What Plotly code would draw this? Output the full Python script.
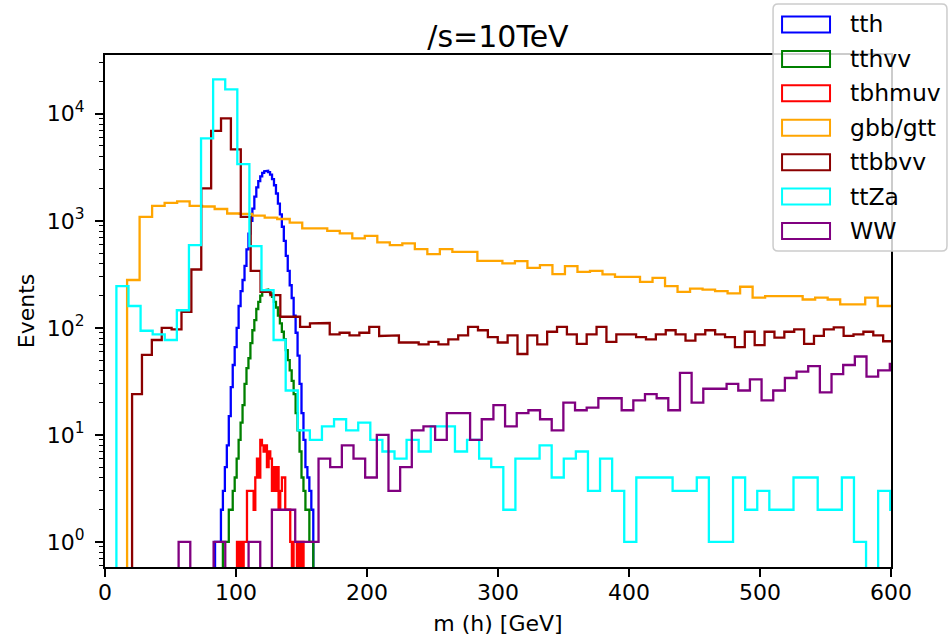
import plotly.graph_objects as go

# ---------------- data ----------------
series_names = ["tth", "tthvv", "tbhmuv", "gbb/gtt", "ttbbvv", "ttZa", "WW"]

# histogram binning per series: first bin edge [GeV] and bin width [GeV]
bin_start = {"tth": 84.0, "tthvv": 84.0, "tbhmuv": 100.76, "gbb/gtt": 16.86,
             "ttbbvv": 20.67, "ttZa": 8.70, "WW": 56.2}
bin_width = {"tth": 1.5, "tthvv": 1.5, "tbhmuv": 1.27, "gbb/gtt": 9.55,
             "ttbbvv": 7.544, "ttZa": 9.23, "WW": 8.90}

tth = [1, 1, 1, 2, 3, 5, 8, 15, 28, 45,
       66, 100, 160, 220, 280, 380, 540, 760, 1000, 1300,
       1680, 2050, 2350, 2600, 2800, 2900, 2930, 2850, 2700, 2450,
       2150, 1800, 1450, 1150, 880, 650, 470, 340, 250, 190,
       130, 90, 55, 30, 16, 9, 5, 4, 3, 2]

tthvv = [0, 0, 0, 0, 1, 1, 1, 2, 2, 3,
         4, 6, 9, 13, 19, 30, 42, 52, 72, 95,
         118, 150, 175, 200, 218, 225, 228, 222, 210, 195,
         175, 155, 130, 110, 92, 78, 62, 50, 40, 32,
         24, 16, 11, 7, 4, 3, 2, 2, 1, 1]

tbhmuv = [1, 0, 1, 0, 1, 1, 3, 3, 3, 3,
          2, 4, 6, 4, 9, 8, 7, 8, 5, 7,
          6, 3, 5, 3, 5, 2, 3, 4, 4, 2,
          2, 2, 1, 0, 1, 1, 0, 1, 0, 1]

gbb_gtt = [280, 1090, 1380, 1470, 1520, 1380, 1360, 1290, 1170, 1160,
           1120, 1070, 1040, 960, 850, 850, 807, 762, 685, 724,
           628, 593, 615, 543, 488, 543, 513, 513, 423, 423,
           400, 420, 364, 385, 318, 377, 334, 341, 316, 300,
           300, 269, 293, 245, 217, 233, 228, 220, 210, 242,
           192, 198, 195, 198, 184, 192, 184, 166, 166, 192,
           160, 160]

ttbbvv = [24, 56, 77, 100, 97, 141, 351, 2010, 6930, 9060,
          4650, 1090, 341, 217, 202, 127, 127, 102, 110, 111,
          87, 90, 85, 90, 102, 84, 85, 73, 73, 70,
          74, 70, 78, 85, 102, 95, 82, 73, 85, 57,
          85, 70, 92, 102, 87, 71, 87, 102, 74, 87,
          87, 82, 78, 87, 95, 87, 76, 87, 95, 87,
          82, 66, 92, 69, 92, 81, 92, 97, 71, 84,
          97, 101, 84, 87, 92, 85, 75]

ttZa = [245, 160, 94, 87, 77, 146, 593, 5890, 21000, 16900,
        3390, 580, 225, 77, 26, 11, 9, 12, 14, 11,
        13, 9, 7, 6, 9, 7, 12, 12, 7, 9,
        6, 5, 2, 6, 6, 8, 4, 6, 7, 3,
        6, 3, 1, 4, 4, 4, 3, 3, 4, 1,
        1, 4, 2, 3, 2, 2, 4, 4, 2, 2,
        4, 1, 0, 3, 2]

WW = [1, 0, 0, 1, 0, 0, 1, 0, 2, 2,
      1, 1, 6, 5, 8, 6, 4, 10, 3, 5,
      11, 12, 9, 16, 16, 9, 14, 19, 12, 16,
      17, 14, 11, 20, 17, 18, 22, 22, 17, 21,
      24, 22, 17, 38, 20, 27, 27, 30, 26, 33,
      21, 26, 34, 39, 44, 25, 37, 45, 54, 35,
      40, 46]

counts = {"tth": tth, "tthvv": tthvv, "tbhmuv": tbhmuv, "gbb/gtt": gbb_gtt,
          "ttbbvv": ttbbvv, "ttZa": ttZa, "WW": WW}

x_ticks = [0, 100, 200, 300, 400, 500, 600]
y_ticks = [1, 10, 100, 1000, 10000]
y_ticktext = ["10<sup>0</sup>", "10<sup>1</sup>", "10<sup>2</sup>", "10<sup>3</sup>", "10<sup>4</sup>"]

title_text = "/s=10TeV"
x_title = "m (h) [GeV]"
y_title = "Events"

# ---------------- styles ----------------
colors = {"tth": "#0000ff", "tthvv": "#008000", "tbhmuv": "#ff0000", "gbb/gtt": "#ffa500",
          "ttbbvv": "#8b0000", "ttZa": "#00ffff", "WW": "#800080"}

W, H = 948, 640
ML, MR, MT, MB = 104.6, 57.0, 55.0, 73.3
PW, PH = W - ML - MR, H - MT - MB
FONT = "DejaVu Sans"
FS = 22
LFS = 23.5
LW = 2.3


def X(px):
    return (px - ML) / PW


def Y(py):
    return (H - MB - py) / PH


def step_xy(start, width, vals, floor=1e-3):
    edges = [start + i * width for i in range(len(vals) + 1)]
    xs, ys = [edges[0]], [floor]
    for i, v in enumerate(vals):
        vv = v if v > 0 else floor
        xs += [edges[i], edges[i + 1]]
        ys += [vv, vv]
    xs.append(edges[-1])
    ys.append(floor)
    return xs, ys


fig = go.Figure()
for name in series_names:
    xs, ys = step_xy(bin_start[name], bin_width[name], counts[name])
    fig.add_trace(go.Scatter(x=xs, y=ys, mode="lines", name=name,
                             line=dict(color=colors[name], width=LW),
                             showlegend=False, hoverinfo="skip"))

minor_vals = [m * 10 ** k for k in range(-1, 5) for m in range(2, 10)]

fig.update_layout(
    width=W, height=H,
    margin=dict(l=ML, r=MR, t=MT, b=MB, pad=0, autoexpand=False),
    paper_bgcolor="white", plot_bgcolor="white",
    font=dict(family=FONT, size=FS, color="black"),
    title=dict(text=title_text, x=0.5, xref="paper", xanchor="center",
               y=1 - 36 / H, yref="container", yanchor="middle",
               font=dict(size=30, color="black", family=FONT)),
    xaxis=dict(range=[0, 600], tickmode="array", tickvals=x_ticks,
               ticks="outside", ticklen=8, tickwidth=1.9, tickcolor="black",
               showline=True, linewidth=1.9, linecolor="black", mirror=True,
               showgrid=False, zeroline=False, ticklabelstandoff=-3,
               automargin=True, tickfont=dict(size=FS),
               title=dict(text=x_title, standoff=11, font=dict(size=FS))),
    yaxis=dict(type="log", range=[-0.234, 4.549], tickmode="array",
               tickvals=y_ticks, ticktext=y_ticktext,
               ticks="outside", ticklen=8, tickwidth=1.9, tickcolor="black",
               showline=True, linewidth=1.9, linecolor="black", mirror=True,
               showgrid=False, zeroline=False, ticklabelstandoff=6,
               automargin=True, tickfont=dict(size=FS),
               minor=dict(tickmode="array", tickvals=minor_vals, ticks="outside",
                          ticklen=4.5, tickwidth=1.4, tickcolor="black", showgrid=False),
               title=dict(text=y_title, standoff=6, font=dict(size=FS))),
)

# ---------------- legend (matplotlib-style, outline patches) ----------------
L0, T0, R0, B0, RAD = 773, 4, 947, 251, 5
box = (f"M{X(L0 + RAD)},{Y(T0)} L{X(R0 - RAD)},{Y(T0)} Q{X(R0)},{Y(T0)} {X(R0)},{Y(T0 + RAD)} "
       f"L{X(R0)},{Y(B0 - RAD)} Q{X(R0)},{Y(B0)} {X(R0 - RAD)},{Y(B0)} "
       f"L{X(L0 + RAD)},{Y(B0)} Q{X(L0)},{Y(B0)} {X(L0)},{Y(B0 - RAD)} "
       f"L{X(L0)},{Y(T0 + RAD)} Q{X(L0)},{Y(T0)} {X(L0 + RAD)},{Y(T0)} Z")
fig.add_shape(type="path", path=box, xref="paper", yref="paper",
              fillcolor="rgba(255,255,255,0.8)", line=dict(color="#cccccc", width=1.5),
              layer="above")
ROW0, ROWH = 24.5, 34.4
for i, name in enumerate(series_names):
    cy = ROW0 + ROWH * i
    fig.add_shape(type="rect", xref="paper", yref="paper",
                  x0=X(782), x1=X(830), y0=Y(cy + 8), y1=Y(cy - 8),
                  line=dict(color=colors[name], width=2), fillcolor="rgba(0,0,0,0)",
                  layer="above")
    fig.add_annotation(text=name, xref="paper", yref="paper", x=X(848), y=Y(cy),
                       xanchor="left", yanchor="middle", showarrow=False,
                       font=dict(size=LFS, color="black", family=FONT))

fig.write_html("out.html")
